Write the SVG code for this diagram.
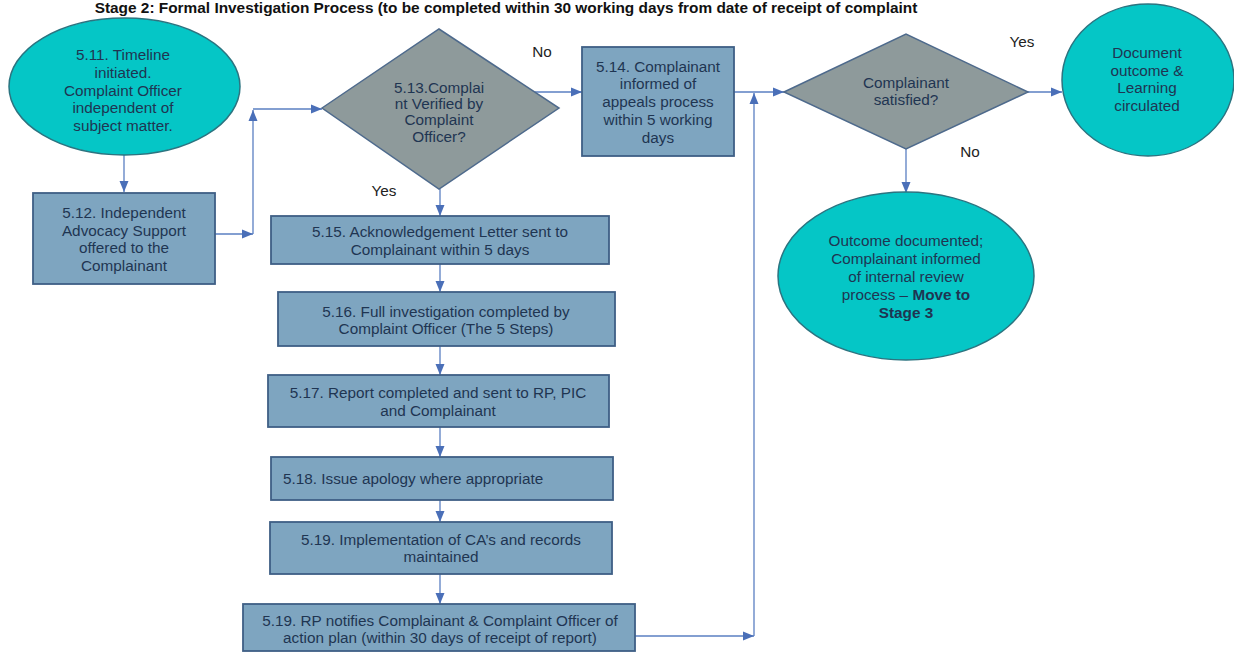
<svg xmlns="http://www.w3.org/2000/svg" width="1234" height="652" viewBox="0 0 1234 652">
<defs>
<style>
.t{font-family:"Liberation Sans",Arial,sans-serif;font-size:15.3px;fill:#1f3552;text-anchor:middle}
.lbl{font-family:"Liberation Sans",Arial,sans-serif;font-size:15.3px;fill:#222;text-anchor:middle}
.title{font-family:"Liberation Sans",Arial,sans-serif;font-size:15.4px;font-weight:bold;fill:#111;text-anchor:middle}
.ell{fill:#05c6c6;stroke:#2c7480;stroke-width:1.5}
.box{fill:#7ea5c0;stroke:#3f5f85;stroke-width:1.8}
.dia{fill:#8e9a9b;stroke:#4e6a8c;stroke-width:1.5}
.c{fill:none;stroke:#5a7fc2;stroke-width:1.3}
</style>
<marker id="ah" markerUnits="userSpaceOnUse" markerWidth="12" markerHeight="12" viewBox="0 0 12 12" refX="11" refY="6" orient="auto">
<path d="M0,1.5 L11,6 L0,10.5 Z" fill="#4a6fb8"/>
</marker>
</defs>
<rect width="1234" height="652" fill="#fff"/>
<text class="title" x="506" y="13">Stage 2: Formal Investigation Process (to be completed within 30 working days from date of receipt of complaint</text>

<g id="connectors">
<path class="c" d="M124,155 V192" marker-end="url(#ah)"/>
<path class="c" d="M215,234 H253" marker-end="url(#ah)"/>
<path class="c" d="M253,234 V110" marker-end="url(#ah)"/>
<path class="c" d="M253,109 H322" marker-end="url(#ah)"/>
<path class="c" d="M535,92 H582" marker-end="url(#ah)"/>
<path class="c" d="M440,189 V216" marker-end="url(#ah)"/>
<path class="c" d="M440,264 V292" marker-end="url(#ah)"/>
<path class="c" d="M440,346 V375" marker-end="url(#ah)"/>
<path class="c" d="M440,427 V457" marker-end="url(#ah)"/>
<path class="c" d="M440,500 V522" marker-end="url(#ah)"/>
<path class="c" d="M440,574 V604" marker-end="url(#ah)"/>
<path class="c" d="M635,636 H754" marker-end="url(#ah)"/>
<path class="c" d="M754,636 V93" marker-end="url(#ah)"/>
<path class="c" d="M734,92 H784" marker-end="url(#ah)"/>
<path class="c" d="M1028,92 H1062" marker-end="url(#ah)"/>
<path class="c" d="M906,149 V193" marker-end="url(#ah)"/>
<text class="lbl" x="542" y="57">No</text>
<text class="lbl" x="384" y="196">Yes</text>
<text class="lbl" x="1022" y="47">Yes</text>
<text class="lbl" x="970" y="157">No</text>
</g>

<g id="n511">
<ellipse class="ell" cx="124.5" cy="86.5" rx="115.5" ry="68.5"/>
<text class="t" x="123" y="60.4">5.11. Timeline</text>
<text class="t" x="123" y="78.4">initiated.</text>
<text class="t" x="123" y="96.4">Complaint Officer</text>
<text class="t" x="123" y="113.4">independent of</text>
<text class="t" x="123" y="131.4">subject matter.</text>
</g>

<g id="n512">
<rect class="box" x="33" y="193" width="182" height="91"/>
<text class="t" x="124" y="218.4">5.12. Independent</text>
<text class="t" x="124" y="236.4">Advocacy Support</text>
<text class="t" x="124" y="253.4">offered to the</text>
<text class="t" x="124" y="271.4">Complainant</text>
</g>

<g id="n513">
<polygon class="dia" points="322,108 439,29 559,108 439,189"/>
<text class="t" x="439" y="93.4">5.13.Complai</text>
<text class="t" x="439" y="109.4">nt Verified by</text>
<text class="t" x="439" y="125.4">Complaint</text>
<text class="t" x="439" y="142.4">Officer?</text>
</g>

<g id="n514">
<rect class="box" x="582" y="47" width="152" height="109"/>
<text class="t" x="658" y="72.4">5.14. Complainant</text>
<text class="t" x="658" y="89.4">informed of</text>
<text class="t" x="658" y="107.4">appeals process</text>
<text class="t" x="658" y="125.4">within 5 working</text>
<text class="t" x="658" y="143.4">days</text>
</g>

<g id="nsat">
<polygon class="dia" points="784,92 906,34 1028,92 906,149"/>
<text class="t" x="906" y="88.4">Complainant</text>
<text class="t" x="906" y="105.4">satisfied?</text>
</g>

<g id="ndoc">
<ellipse class="ell" cx="1148" cy="80" rx="86" ry="76"/>
<text class="t" x="1147" y="58.4">Document</text>
<text class="t" x="1147" y="76.4">outcome &amp;</text>
<text class="t" x="1147" y="93.4">Learning</text>
<text class="t" x="1147" y="111.4">circulated</text>
</g>

<g id="nout">
<ellipse class="ell" cx="906" cy="276" rx="128" ry="84"/>
<text class="t" x="906" y="246.4">Outcome documented;</text>
<text class="t" x="906" y="264.4">Complainant informed</text>
<text class="t" x="906" y="282.4">of internal review</text>
<text class="t" x="906" y="300.4">process – <tspan font-weight="bold">Move to</tspan></text>
<text class="t" x="906" y="318.4" font-weight="bold">Stage 3</text>
</g>

<g id="n515">
<rect class="box" x="271" y="216" width="338" height="48"/>
<text class="t" x="440" y="237.4">5.15. Acknowledgement Letter sent to</text>
<text class="t" x="440" y="255.4">Complainant within 5 days</text>
</g>

<g id="n516">
<rect class="box" x="278" y="292" width="337" height="54"/>
<text class="t" x="446" y="317.4">5.16. Full investigation completed by</text>
<text class="t" x="446" y="334.4">Complaint Officer (The 5 Steps)</text>
</g>

<g id="n517">
<rect class="box" x="268" y="375" width="341" height="52"/>
<text class="t" x="438" y="398.4">5.17. Report completed and sent to RP, PIC</text>
<text class="t" x="438" y="416.4">and Complainant</text>
</g>

<g id="n518">
<rect class="box" x="271" y="457" width="342" height="43"/>
<text class="t" x="283" y="484.4" style="text-anchor:start">5.18. Issue apology where appropriate</text>
</g>

<g id="n519a">
<rect class="box" x="270" y="522" width="342" height="52"/>
<text class="t" x="441" y="545.4">5.19. Implementation of CA’s and records</text>
<text class="t" x="441" y="562.4">maintained</text>
</g>

<g id="n519b">
<rect class="box" x="243" y="604" width="392" height="47"/>
<text class="t" x="440" y="626.4">5.19. RP notifies Complainant &amp; Complaint Officer of</text>
<text class="t" x="440" y="643.4">action plan (within 30 days of receipt of report)</text>
</g>
</svg>
